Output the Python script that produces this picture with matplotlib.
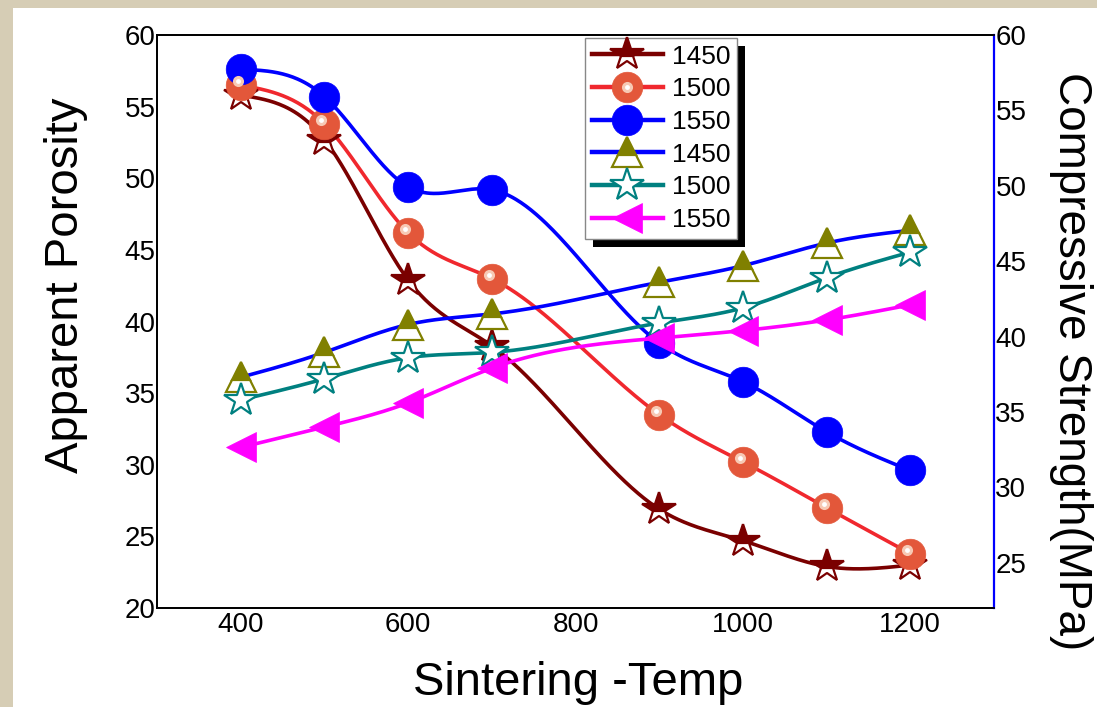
import numpy as np
import matplotlib
matplotlib.use("Agg")
import matplotlib.pyplot as plt
from matplotlib.lines import Line2D
from matplotlib.patches import Rectangle
from matplotlib.legend_handler import HandlerTuple
import matplotlib.transforms as mtransforms

plt.rcParams['font.family'] = ['Liberation Sans', 'DejaVu Sans']

# sintering temperatures (no point at 800)
temp = [400, 500, 600, 700, 900, 1000, 1100, 1200]

# apparent porosity (left axis)
por_1450 = [55.8, 52.7, 42.9, 38.3, 26.9, 24.7, 22.9, 23.0]
por_1500 = [56.5, 53.8, 46.2, 43.0, 33.5, 30.2, 27.0, 23.8]
por_1550 = [57.6, 55.7, 49.4, 49.2, 38.5, 35.8, 32.3, 29.6]

# compressive strength, MPa (right axis)
cs_1450 = [37.3, 38.95, 40.8, 41.5, 43.6, 44.7, 46.2, 47.05]
cs_1500 = [35.8, 37.2, 38.6, 38.95, 40.9, 41.9, 43.9, 45.6]
cs_1550 = [32.65, 34.0, 35.6, 37.9, 39.9, 40.4, 41.1, 42.1]

labels = ['1450', '1500', '1550', '1450', '1500', '1550']


def spline(x, y, n=400):
    # natural cubic spline, only used to draw the connecting curve
    x = np.asarray(x, float)
    y = np.asarray(y, float)
    m = len(x)
    h = np.diff(x)
    A = np.zeros((m, m))
    b = np.zeros(m)
    A[0, 0] = A[-1, -1] = 1
    for i in range(1, m - 1):
        A[i, i - 1] = h[i - 1]
        A[i, i] = 2 * (h[i - 1] + h[i])
        A[i, i + 1] = h[i]
        b[i] = 3 * ((y[i + 1] - y[i]) / h[i] - (y[i] - y[i - 1]) / h[i - 1])
    c = np.linalg.solve(A, b)
    bc = (y[1:] - y[:-1]) / h - h * (2 * c[:-1] + c[1:]) / 3
    d = (c[1:] - c[:-1]) / (3 * h)
    xs = np.linspace(x[0], x[-1], n)
    idx = np.clip(np.searchsorted(x, xs) - 1, 0, m - 2)
    dx = xs - x[idx]
    ys = y[idx] + bc[idx] * dx + c[idx] * dx ** 2 + d[idx] * dx ** 3
    return xs, ys


fig = plt.figure(figsize=(10.97, 7.07), dpi=100)
fig.patch.set_facecolor('white')
# beige border strips on the left and top
beige = '#d6cdb5'
fig.add_artist(Rectangle((0, 0), 13 / 1097, 1, transform=fig.transFigure,
                         facecolor=beige, edgecolor='none', zorder=-1))
fig.add_artist(Rectangle((0, 1 - 8 / 707), 1, 8 / 707, transform=fig.transFigure,
                         facecolor=beige, edgecolor='none', zorder=-1))

ax = fig.add_axes([157 / 1097, 1 - 608 / 707, 837 / 1097, 573 / 707])
ax2 = ax.twinx()

lw = 2.6
styles = [
    # (axis, y, line colour, marker, marker kw)
    (ax, por_1450, '#7a0000', '*', dict(ms=25, mfc='#7a0000', mfcalt='white',
                                          mec='#7a0000', mew=1.6, fillstyle='top')),
    (ax, por_1500, '#f0282e', 'o', dict(ms=22, mfc='#e3573a', mec='#e3573a', mew=0.5)),
    (ax, por_1550, '#0000ff', 'o', dict(ms=22, mfc='#0000ff', mec='#0000ff', mew=0.5)),
    (ax2, cs_1450, '#0000ff', '^', dict(ms=22, mfc='#808000', mfcalt='white',
                                          mec='#808000', mew=1.6, fillstyle='top')),
    (ax2, cs_1500, '#008080', '*', dict(ms=25, mfc='white', mec='#008080', mew=1.6)),
    (ax2, cs_1550, '#ff00ff', '<', dict(ms=22, mfc='#ff00ff', mec='#ff00ff', mew=0.5)),
]

handles = []
for i, (a, y, col, mk, kw) in enumerate(styles):
    xs, ys = spline(temp, y)
    a.plot(xs, ys, color=col, lw=lw, zorder=2)
    kw = dict(kw)
    alt = kw.pop('mfcalt', None)
    if alt is not None:
        kw['markerfacecoloralt'] = alt
    a.plot(temp, y, ls='none', marker=mk, zorder=3, **kw)
    h = Line2D([], [], color=col, lw=lw + 0.6, marker=mk, **kw)
    if i == 1:
        hl = Line2D([], [], ls='none', marker='o', ms=8, mfc='#f7c9b4', mec='none')
        hw = Line2D([], [], ls='none', marker='o', ms=3.5, mfc='white', mec='none')
        handles.append((h, hl, hw))
    else:
        handles.append(h)

# highlight on the red spheres
off1 = mtransforms.offset_copy(ax.transData, fig=fig, x=-3, y=4, units='dots')
ax.plot(temp, por_1500, ls='none', marker='o', ms=8, mfc='#f7c9b4', mec='none',
        transform=off1, zorder=4)
ax.plot(temp, por_1500, ls='none', marker='o', ms=3.5, mfc='white', mec='none',
        transform=off1, zorder=4)

ax.set_xlim(300, 1300)
ax.set_ylim(20, 60)
ax2.set_ylim(22, 60)
ax.set_xticks([400, 600, 800, 1000, 1200])
ax.set_yticks(range(20, 61, 5))
ax2.set_yticks(range(25, 61, 5))

for a in (ax, ax2):
    a.tick_params(length=0, labelsize=20, pad=1)
    for s in a.spines.values():
        s.set_linewidth(1.3)
ax.tick_params(axis='x', pad=3)
ax2.spines['right'].set_color('#0000ff')
ax2.spines['right'].set_linewidth(1.6)

ax.set_xlabel('Sintering -Temp', fontsize=34)
ax.set_ylabel('Apparent Porosity', fontsize=34)
ax2.set_ylabel('Compressive Strength(MPa)', fontsize=33, rotation=270)
ax.xaxis.set_label_coords(0.503, -0.092)
ax.yaxis.set_label_coords(-0.082, 0.564)
ax2.yaxis.set_label_coords(1.118, 0.43)

leg = ax2.legend(handles, labels, loc='upper left',
                 bbox_to_anchor=((585 - 157) / 837, (608 - 38) / 573),
                 borderaxespad=0, fontsize=19, handlelength=2.7,
                 handletextpad=0.35, labelspacing=0.33, borderpad=0.25,
                 frameon=True, fancybox=False, framealpha=1,
                 edgecolor='#888888',
                 handler_map={tuple: HandlerTuple(ndivide=1)})
leg.get_frame().set_linewidth(1.0)
leg.set_zorder(6)

# black drop shadow behind the legend
fig.canvas.draw()
bb = leg.get_window_extent().transformed(ax2.transAxes.inverted())
dx = 8 / 837
dy = 8 / 573
ax2.add_patch(Rectangle((bb.x0 + dx, bb.y0 - dy), bb.width, bb.height,
                        transform=ax2.transAxes, facecolor='black',
                        edgecolor='none', zorder=5, clip_on=False))

fig.savefig('out.png', dpi=100, facecolor=fig.get_facecolor())
